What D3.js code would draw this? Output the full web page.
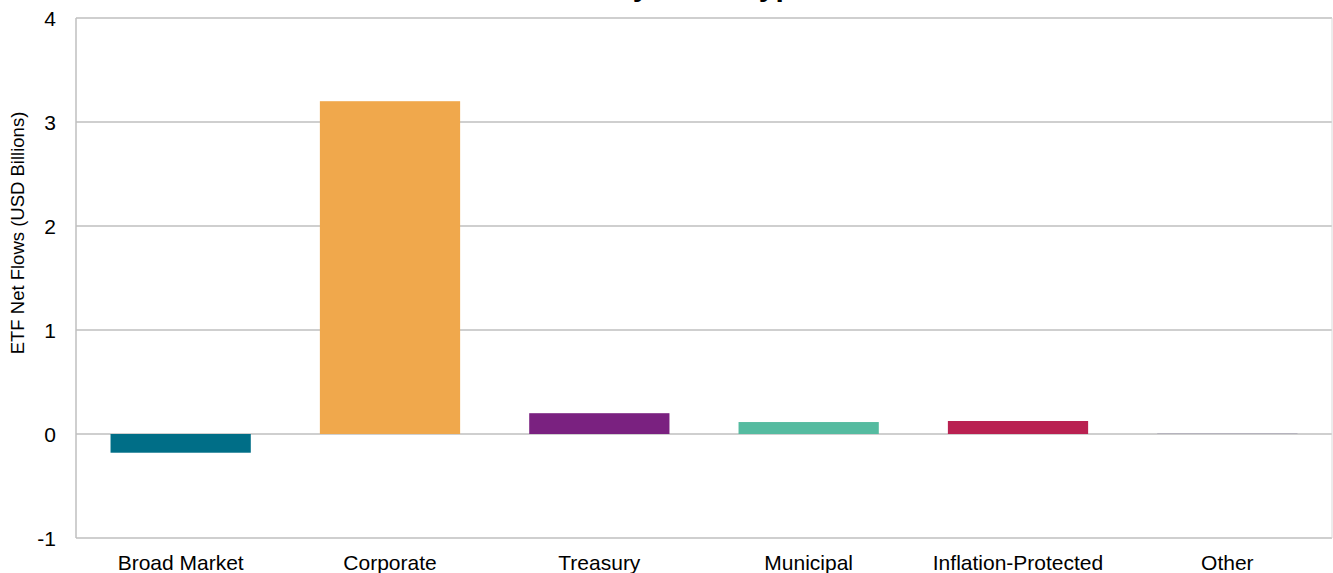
<!DOCTYPE html>
<html>
<head>
<meta charset="utf-8">
<script src="https://cdn.jsdelivr.net/npm/d3@7"></script>
<style>
  html, body { margin: 0; padding: 0; background: #fff; }
  svg { display: block; font-family: Arial, "Liberation Sans", sans-serif; }
</style>
</head>
<body>
<svg id="chart" width="1333" height="573"></svg>
<script>
const categories = ["Broad Market", "Corporate", "Treasury", "Municipal", "Inflation-Protected", "Other"];
const values = [-0.18, 3.20, 0.20, 0.115, 0.125, 0.006];
const colors = ["#006e87", "#f0a84c", "#7a2180", "#55bba0", "#b92151", "#a5a2b2"];
const yTicks = [-1, 0, 1, 2, 3, 4];
const chartTitle = "ETF Net Flows by Bond Type";
const yTitle = "ETF Net Flows (USD Billions)";

(function () {
const svg = d3.select("#chart");
const mLeft = 76, mRight = 1332, mTop = 18, mBottom = 538;

const x = d3.scaleBand().domain(categories).range([mLeft, mRight]).paddingInner(0.33).paddingOuter(0.165);
const y = d3.scaleLinear().domain([-1, 4]).range([mBottom, mTop]);

// title (mostly cut off at top, as in the reference)
svg.append("text").attr("x", 605).attr("y", -4).attr("text-anchor", "middle")
  .attr("font-weight", "bold").attr("font-size", 30).attr("fill", "#000").text(chartTitle);

// gridlines
svg.append("g").selectAll("line").data(yTicks).join("line")
  .attr("x1", mLeft).attr("x2", mRight)
  .attr("y1", d => y(d)).attr("y2", d => y(d))
  .attr("stroke", "#bfbfbf").attr("stroke-width", 1.5);

// plot border left/right
svg.append("line").attr("x1", mLeft).attr("x2", mLeft).attr("y1", mTop).attr("y2", mBottom)
  .attr("stroke", "#bfbfbf").attr("stroke-width", 1.5);
svg.append("line").attr("x1", mRight).attr("x2", mRight).attr("y1", mTop).attr("y2", mBottom)
  .attr("stroke", "#d9d9d9").attr("stroke-width", 1);

// bars
svg.append("g").selectAll("rect").data(categories).join("rect")
  .attr("x", d => x(d))
  .attr("width", x.bandwidth())
  .attr("y", (d, i) => y(Math.max(0, values[i])))
  .attr("height", (d, i) => Math.abs(y(values[i]) - y(0)))
  .attr("fill", (d, i) => colors[i]);

// y axis tick labels
const yAxis = d3.axisLeft(y).tickValues(yTicks).tickSize(0).tickPadding(0).tickFormat(d => String(d));
const gy = svg.append("g").attr("transform", "translate(56,0)").call(yAxis);
gy.select(".domain").remove();
gy.selectAll("text").attr("font-size", 21).attr("fill", "#000").attr("font-family", "Arial, 'Liberation Sans', sans-serif").attr("dy", "0.35em");

// x axis labels
const xAxis = d3.axisBottom(x).tickSize(0).tickPadding(0);
const gx = svg.append("g").attr("transform", `translate(0,${mBottom})`).call(xAxis);
gx.select(".domain").remove();
gx.selectAll("text").attr("font-size", 21).attr("fill", "#000").attr("font-family", "Arial, 'Liberation Sans', sans-serif")
  .attr("dy", null).attr("y", 32);

// y axis title
svg.append("text").attr("transform", "translate(24,233) rotate(-90)")
  .attr("text-anchor", "middle").attr("font-size", 18.5).attr("fill", "#000").text(yTitle);
})();
</script>
</body>
</html>
